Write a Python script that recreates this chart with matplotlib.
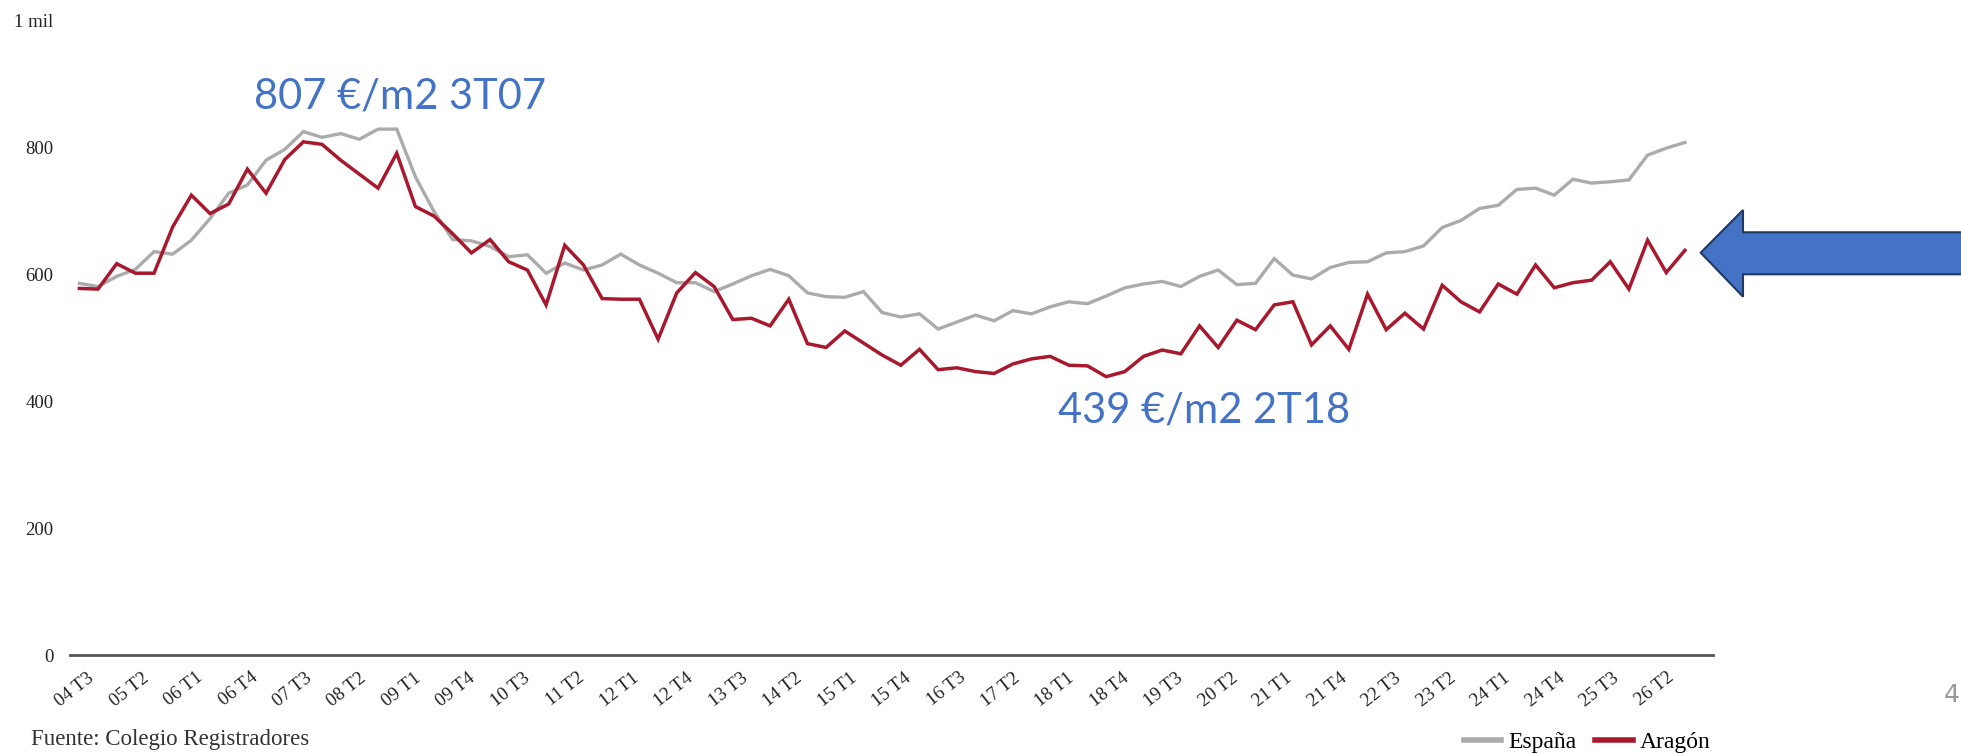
import numpy as np
import matplotlib
matplotlib.use('Agg')
import matplotlib.pyplot as plt
from matplotlib.lines import Line2D
from matplotlib.patches import Polygon

# precio medio vivienda, €/m2, trimestral 04 T3 .. 26 T1
espana = [586, 581, 597, 608, 636, 632, 654, 688, 728, 741,
          780, 797, 825, 816, 822, 813, 829, 829, 754, 699,
          655, 653, 644, 628, 631, 602, 618, 607, 615, 632,
          615, 602, 587, 587, 573, 585, 598, 608, 598, 571,
          565, 564, 573, 540, 533, 538, 514, 525, 536, 527,
          543, 538, 549, 557, 554, 566, 579, 585, 589, 581,
          597, 607, 584, 586, 625, 599, 593, 611, 619, 620,
          634, 636, 645, 674, 685, 704, 709, 734, 736, 725,
          750, 744, 746, 749, 788, 799, 808]
aragon = [578, 577, 617, 602, 602, 675, 725, 696, 711, 766,
          728, 781, 809, 805, 780, 758, 736, 791, 707, 692,
          664, 634, 655, 620, 607, 552, 646, 615, 562, 561,
          561, 498, 571, 603, 581, 529, 531, 519, 561, 491,
          485, 511, 492, 473, 457, 482, 450, 453, 447, 444,
          459, 467, 471, 457, 456, 439, 447, 471, 481, 475,
          519, 485, 528, 513, 552, 557, 489, 519, 482, 569,
          513, 539, 514, 583, 557, 541, 585, 569, 615, 579,
          587, 591, 620, 577, 654, 603, 638]
tick_labels = ['04 T3', '05 T2', '06 T1', '06 T4', '07 T3', '08 T2', '09 T1', '09 T4',
               '10 T3', '11 T2', '12 T1', '12 T4', '13 T3', '14 T2', '15 T1', '15 T4',
               '16 T3', '17 T2', '18 T1', '18 T4', '19 T3', '20 T2', '21 T1', '21 T4',
               '22 T3', '23 T2', '24 T1', '24 T4', '25 T3', '26 T2']
y_ticks = [0, 200, 400, 600, 800, 1000]
y_labels = ['0', '200', '400', '600', '800', '1 mil']

gris = '#ababab'
rojo = '#a8192e'
azul = '#4472c4'
serif = 'Liberation Serif'

fig = plt.figure(figsize=(19.61, 7.54), dpi=100)
ax = fig.add_axes([0.0357, 0.1309, 0.8378, 0.8418])

x = np.arange(len(espana))
ax.plot(x, espana, color=gris, lw=2.4, solid_joinstyle='miter')
ax.plot(x, aragon, color=rojo, lw=2.5, solid_joinstyle='miter')

ax.set_xlim(-0.5, 87.5)
ax.set_ylim(0, 1000)
for s in ['top', 'right', 'left']:
    ax.spines[s].set_visible(False)
ax.spines['bottom'].set_color('#555555')
ax.spines['bottom'].set_linewidth(2)

ax.set_yticks(y_ticks)
ax.set_yticklabels(y_labels, fontfamily=serif, fontsize=13.5, color='#222222')
ax.set_xticks(np.linspace(0.4, 85, len(tick_labels)))
ax.set_xticklabels(tick_labels, rotation=38, ha='right', rotation_mode='anchor',
                   fontfamily=serif, fontsize=13.5, color='#222222')
ax.tick_params(length=0, axis='both')
ax.tick_params(axis='y', pad=12)
ax.tick_params(axis='x', pad=10)

# anotaciones
ax.text(9.36, 881, '807 €/m2 3T07', color=azul, fontsize=30, family='Lato', va='center', ha='left')
ax.text(52.4, 386, '439 €/m2 2T18', color=azul, fontsize=30, family='Lato', va='center', ha='left')

# flecha
W, H = 1961, 754
pts = [(1700.7, 252.7), (1743, 210), (1743, 232.3), (1975, 232.3),
       (1975, 274.3), (1743, 274.3), (1743, 296.7)]
arrow = Polygon([(px / W, 1 - py / H) for px, py in pts], closed=True,
                transform=fig.transFigure, facecolor=azul, edgecolor='#1f3864', lw=1.5,
                clip_on=False)
fig.patches.append(arrow)

fig.text(31 / W, 1 - 740 / H, 'Fuente: Colegio Registradores', fontfamily=serif,
         fontsize=16.5, color='#333333', va='center', ha='left')

handles = [Line2D([], [], color=gris, lw=4), Line2D([], [], color=rojo, lw=4)]
fig.legend(handles, ['España', 'Aragón'], loc='center right', ncol=2,
           bbox_to_anchor=(1711 / W, 1 - 742 / H), frameon=False,
           prop={'family': serif, 'size': 17}, handlelength=1.6, columnspacing=0.8,
           handletextpad=0.3, borderpad=0, borderaxespad=0)

fig.text(1944 / W, 1 - 695 / H, '4', fontsize=18, color='#999999', va='center', ha='left')

fig.savefig('out.png', dpi=100)
